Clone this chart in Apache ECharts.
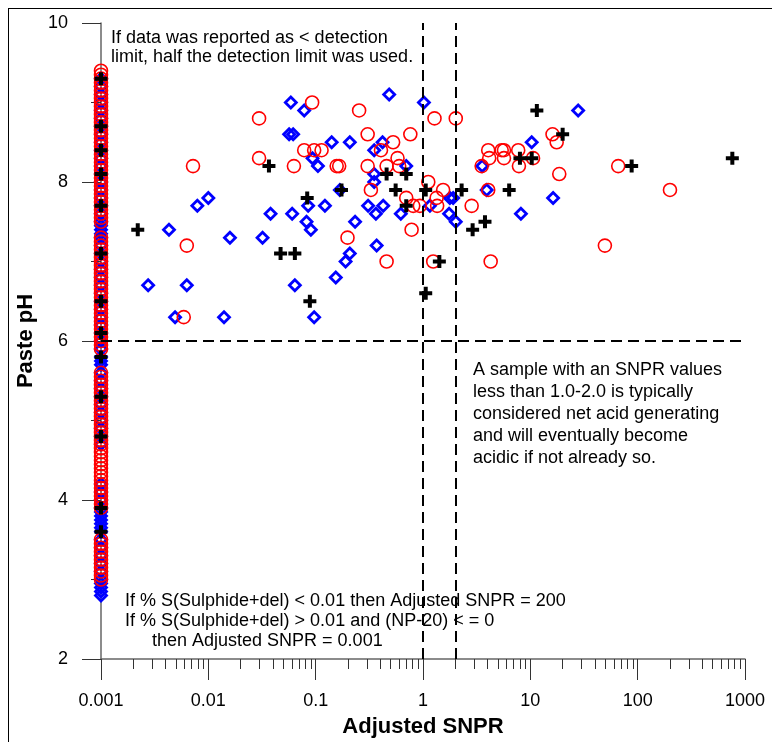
<!DOCTYPE html>
<html>
<head>
<meta charset="utf-8">
<script src="https://cdn.jsdelivr.net/npm/echarts@6/dist/echarts.min.js"></script>
<style>
  html, body { margin: 0; padding: 0; background: #fff; }
  #chart { width: 772px; height: 742px; }
</style>
</head>
<body>
<div id="chart"></div>
<script>
// axis ticks
const xMajorTicks = [0.001, 0.01, 0.1, 1, 10, 100, 1000]
const xTickLabels = ['0.001', '0.01', '0.1', '1', '10', '100', '1000']
const xMinorTicks = [0.002, 0.003, 0.004, 0.005, 0.006, 0.007, 0.008, 0.009,
  0.02, 0.03, 0.04, 0.05, 0.06, 0.07, 0.08, 0.09,
  0.2, 0.3, 0.4, 0.5, 0.6, 0.7, 0.8, 0.9,
  2, 3, 4, 5, 6, 7, 8, 9,
  20, 30, 40, 50, 60, 70, 80, 90,
  200, 300, 400, 500, 600, 700, 800, 900]
const yTicks = [2, 4, 6, 8, 10]

// reference lines
const snprLimits = [1, 2]
const phLimit = 6

// red circles
const redSNPR = [0.0927, 0.254, 0.0297, 1.28, 2.02, 0.305, 0.762, 0.527, 0.0782, 0.0968,
  0.1135, 0.406, 0.0297, 0.579, 0.0072, 0.0627, 0.157, 0.1656, 0.305, 0.458,
  0.60, 1.12, 0.327, 0.698, 1.34, 0.811, 0.935, 1.355, 0.0063, 0.198,
  0.783, 0.458, 1.245, 0.0059, 4.05, 5.41, 5.68, 7.71, 4.14, 5.68,
  10.6, 16.1, 17.6, 18.6, 3.52, 7.83, 65.9, 200, 49.5, 1.54,
  4.05, 2.84, 4.27]
const redPH = [9.0, 8.9, 8.8, 8.8, 8.8, 8.6, 8.6, 8.5, 8.4, 8.4,
  8.4, 8.4, 8.3, 8.3, 8.2, 8.2, 8.2, 8.2, 8.2, 8.2,
  8.2, 8.0, 7.9, 7.8, 7.8, 7.7, 7.7, 7.7, 7.2, 7.3,
  7.4, 7.0, 7.0, 6.3, 8.4, 8.4, 8.4, 8.4, 8.3, 8.3,
  8.3, 8.6, 8.5, 8.1, 8.2, 8.2, 8.2, 7.9, 7.2, 7.9,
  7.9, 7.7, 7.0]

// blue diamonds
const blueSNPR = [0.0587, 0.0782, 0.484, 1.02, 0.0566, 0.0617, 0.141, 0.208, 0.42, 0.351,
  0.0935, 0.105, 0.698, 0.351, 0.351, 0.168, 0.0100, 0.0079, 0.0851, 0.122,
  0.308, 0.426, 0.038, 0.0604, 0.364, 0.621, 0.0822, 0.233, 0.0043, 0.0902,
  0.0159, 0.032, 0.37, 0.208, 0.19, 0.154, 0.00275, 0.0063, 0.064, 0.0049,
  0.014, 0.0968, 1.16, 27.9, 10.3, 3.56, 3.92, 1.78, 1.91, 16.3,
  1.75, 2.02, 8.17]
const bluePH = [9.0, 8.9, 9.1, 9.0, 8.6, 8.6, 8.5, 8.5, 8.5, 8.4,
  8.3, 8.2, 8.2, 8.1, 8.0, 7.9, 7.8, 7.7, 7.7, 7.7,
  7.7, 7.7, 7.6, 7.6, 7.6, 7.6, 7.5, 7.5, 7.4, 7.4,
  7.3, 7.3, 7.2, 7.1, 7.0, 6.8, 6.7, 6.7, 6.7, 6.3,
  6.3, 6.3, 7.7, 8.9, 8.5, 8.2, 7.9, 7.8, 7.8, 7.8,
  7.6, 7.5, 7.6]

// black crosses
const blackSNPR = [0.0367, 0.0834, 0.174, 0.0022, 0.0471, 0.064, 0.0883, 0.458, 0.698, 0.556,
  0.698, 1.06, 1.06, 11.5, 20.0, 8.0, 10.3, 87.9, 762, 2.29,
  6.35, 3.78, 2.90, 1.42]
const blackPH = [8.2, 7.8, 7.9, 7.4, 7.1, 7.1, 6.5, 8.1, 8.1, 7.9,
  7.7, 7.9, 6.6, 8.9, 8.6, 8.3, 8.3, 8.2, 8.3, 7.9,
  7.9, 7.5, 7.4, 7.0]

// samples reported below detection limit, plotted at SNPR = 0.001
const columnSNPR = 0.001
const colRedPH = [9.4, 9.35, 9.3, 9.25, 9.2, 9.15, 9.1, 9.05, 9.0, 8.95, 8.9, 8.85, 8.8, 8.75,
  8.7, 8.65, 8.6, 8.55, 8.5, 8.45, 8.4, 8.35, 8.3, 8.25, 8.2, 8.15, 8.1, 8.05, 8.0,
  7.95, 7.9, 7.85, 7.8, 7.75, 7.7, 7.65, 7.6, 7.55, 7.5, 7.3, 7.25, 7.2, 7.15, 7.1,
  7.05, 7.0, 6.95, 6.9, 6.85, 6.8, 6.75, 6.7, 6.65, 6.6, 6.55, 6.5, 6.45, 6.4, 6.35,
  6.3, 6.25, 6.2, 6.15, 6.1, 6.05, 6.0, 5.95, 5.9, 5.6, 5.55, 5.5, 5.45, 5.4, 5.35,
  5.3, 5.25, 5.2, 5.15, 5.1, 5.05, 5.0, 4.95, 4.9, 4.85, 4.8, 4.75, 4.7, 4.65, 4.6,
  4.55, 4.5, 4.45, 4.4, 4.35, 4.3, 4.25, 4.2, 4.15, 4.1, 4.05, 4.0, 3.95, 3.9, 3.5,
  3.45, 3.4, 3.35, 3.3, 3.25, 3.2, 3.15, 3.1, 3.05, 3.0]
const colBluePH = [9.3, 9.2, 9.1, 9.0, 8.9, 8.8, 8.7, 8.6, 8.5, 8.4, 8.3, 8.2, 8.1, 8.0, 7.9,
  7.8, 7.7, 7.6, 7.5, 7.45, 7.4, 7.35, 7.3, 7.2, 7.1, 7.0, 6.9, 6.8, 6.7, 6.6,
  6.5, 6.4, 6.3, 6.2, 6.1, 6.0, 5.9, 5.8, 5.75, 5.7, 5.6, 5.5, 5.4, 5.3, 5.2,
  5.1, 5.0, 4.9, 4.8, 4.7, 4.2, 4.1, 4.0, 3.9, 3.85, 3.8, 3.75, 3.7, 3.65, 3.6,
  3.5, 3.4, 3.3, 3.2, 3.1, 3.0, 2.95, 2.9, 2.85, 2.8]
const colBlackPH = [9.3, 8.7, 8.4, 8.1, 7.7, 7.1, 6.5, 6.1, 5.8, 5.3, 4.8, 3.9, 3.6]

const FONT = '"Liberation Sans", Arial, sans-serif'
const PLUS = 'path://M4.5,0h4v4.5h4.5v4h-4.5v4.5h-4v-4.5h-4.5v-4h4.5z'

function pairs (xs, ys) {
  return xs.map((x, i) => [x, ys[i]])
}
function column (ys) {
  return ys.map(y => [columnSNPR, y])
}
function tickLabel (v) {
  for (let i = 0; i < xMajorTicks.length; i++) {
    if (Math.abs(Math.log10(v) - Math.log10(xMajorTicks[i])) < 1e-6) return xTickLabels[i]
  }
  return ''
}

let chart = echarts.init(document.getElementById('chart'), null, { renderer: 'canvas' })

let option = {
  animation: false,
  backgroundColor: '#fff',
  grid: {
    left: 101,
    right: 27,
    top: 23,
    bottom: 83,
    containLabel: false,
    outerBoundsMode: 'none'
  },
  xAxis: [{
    type: 'log',
    logBase: 10,
    min: 0.001,
    max: 1000,
    position: 'bottom',
    name: 'Adjusted SNPR',
    nameLocation: 'middle',
    nameGap: 57,
    nameTextStyle: { fontFamily: FONT, fontSize: 22, fontWeight: 'bold', color: '#000' },
    axisLine: { show: true, onZero: false, lineStyle: { color: '#666', width: 1.5 } },
    axisTick: { show: true, length: 21, customValues: xMajorTicks, lineStyle: { color: '#333', width: 1 } },
    axisLabel: {
      customValues: xMajorTicks,
      margin: 33,
      fontFamily: FONT,
      fontSize: 18,
      color: '#000',
      formatter: tickLabel
    },
    splitLine: { show: false }
  }, {
    type: 'log',
    logBase: 10,
    min: 0.001,
    max: 1000,
    position: 'bottom',
    axisLine: { show: false },
    axisTick: { show: true, length: 10, customValues: xMinorTicks, lineStyle: { color: '#333', width: 1 } },
    axisLabel: { show: false },
    splitLine: { show: false }
  }],
  yAxis: {
    type: 'value',
    min: 2,
    max: 10,
    interval: 2,
    name: 'Paste pH',
    nameLocation: 'middle',
    nameRotate: 90,
    nameGap: 54,
    nameTextStyle: { fontFamily: FONT, fontSize: 22, fontWeight: 'bold', color: '#000' },
    axisLine: { show: true, onZero: false, lineStyle: { color: '#666', width: 1.5 } },
    axisTick: { show: true, length: 19, lineStyle: { color: '#333', width: 1 } },
    minorTick: { show: true, splitNumber: 2, length: 10, lineStyle: { color: '#333', width: 1 } },
    axisLabel: {
      margin: 33,
      fontFamily: FONT,
      fontSize: 18,
      color: '#000',
      customValues: yTicks
    },
    splitLine: { show: false },
    minorSplitLine: { show: false }
  },
  series: [{
    name: 'diamond',
    type: 'scatter',
    symbol: 'diamond',
    symbolSize: 11,
    itemStyle: { color: 'rgba(255,255,255,0)', borderColor: '#0000ff', borderWidth: 2.8, opacity: 1 },
    data: column(colBluePH).concat(pairs(blueSNPR, bluePH)),
    silent: true
  }, {
    name: 'circle',
    type: 'scatter',
    symbol: 'circle',
    symbolSize: 13,
    itemStyle: { color: 'rgba(255,255,255,0)', borderColor: '#ff0000', borderWidth: 1.6, opacity: 1 },
    data: column(colRedPH).concat(pairs(redSNPR, redPH)),
    silent: true
  }, {
    name: 'cross',
    type: 'scatter',
    symbol: PLUS,
    symbolSize: 13,
    itemStyle: { color: '#000', opacity: 1 },
    data: column(colBlackPH).concat(pairs(blackSNPR, blackPH)),
    silent: true,
    markLine: {
      silent: true,
      symbol: 'none',
      label: { show: false },
      lineStyle: { color: '#000', width: 2, type: [11, 6], opacity: 1 },
      data: [
        { xAxis: snprLimits[0] },
        { xAxis: snprLimits[1] },
        { yAxis: phLimit }
      ]
    }
  }],
  graphic: [
    { type: 'line', shape: { x1: 8.5, y1: 8, x2: 8.5, y2: 742 }, style: { stroke: '#000', lineWidth: 1 } },
    { type: 'line', shape: { x1: 8, y1: 8.5, x2: 772, y2: 8.5 }, style: { stroke: '#000', lineWidth: 1 } },
    {
      type: 'text', left: 111, top: 29,
      style: {
        text: 'If data was reported as < detection\nlimit, half the detection limit was used.',
        font: '18px ' + FONT, fill: '#000', lineHeight: 18.5
      }
    },
    {
      type: 'text', left: 473, top: 359,
      style: {
        text: 'A sample with an SNPR values\nless than 1.0-2.0 is typically\nconsidered net acid generating\nand will eventually become\nacidic if not already so.',
        font: '18px ' + FONT, fill: '#000', lineHeight: 22
      }
    },
    {
      type: 'text', left: 125, top: 591,
      style: {
        text: 'If % S(Sulphide+del) < 0.01 then Adjusted SNPR = 200\nIf % S(Sulphide+del) > 0.01 and (NP-20) < = 0',
        font: '18px ' + FONT, fill: '#000', lineHeight: 20
      }
    },
    {
      type: 'text', left: 152, top: 631,
      style: {
        text: 'then Adjusted SNPR = 0.001',
        font: '18px ' + FONT, fill: '#000', lineHeight: 20
      }
    }
  ]
}

chart.setOption(option)
</script>
</body>
</html>
